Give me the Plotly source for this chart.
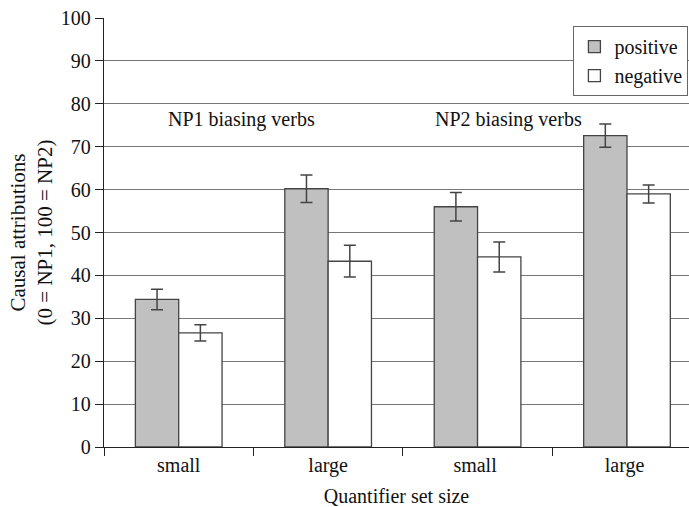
import plotly.graph_objects as go

categories = ["small", "large", "small ", "large "]
positive = [34.4, 60.2, 56.0, 72.6]
positive_err = [2.4, 3.2, 3.3, 2.7]
negative = [26.6, 43.3, 44.3, 59.0]
negative_err = [1.9, 3.7, 3.5, 2.1]
y_ticks = [0, 10, 20, 30, 40, 50, 60, 70, 80, 90, 100]

font_family = "Liberation Serif, Times New Roman, serif"

fig = go.Figure()
fig.add_trace(go.Bar(
    name="positive", x=categories, y=positive,
    marker=dict(color="#c0c0c0", line=dict(color="#444444", width=1.3)),
    error_y=dict(type="data", array=positive_err, color="#444444", thickness=1.5, width=6),
))
fig.add_trace(go.Bar(
    name="negative", x=categories, y=negative,
    marker=dict(color="#ffffff", line=dict(color="#444444", width=1.3)),
    error_y=dict(type="data", array=negative_err, color="#444444", thickness=1.5, width=6),
))

fig.add_annotation(text="NP1 biasing verbs", x=0.42, y=76.3, xref="x", yref="y",
                   showarrow=False, font=dict(size=20, color="#111111", family=font_family))
fig.add_annotation(text="NP2 biasing verbs", x=2.21, y=76.3, xref="x", yref="y",
                   showarrow=False, font=dict(size=20, color="#111111", family=font_family))

fig.update_layout(
    width=689, height=507,
    margin=dict(l=104, r=0, t=18, b=60, autoexpand=False),
    plot_bgcolor="white", paper_bgcolor="white",
    barmode="group", bargap=0.42, bargroupgap=0,
    font=dict(family=font_family, size=20, color="#111111"),
    showlegend=True,
    legend=dict(x=0.999, xanchor="right", y=0.981, yanchor="top",
                bordercolor="#666666", borderwidth=1, bgcolor="white",
                font=dict(size=20), tracegroupgap=0,
                itemwidth=30),
)
fig.update_xaxes(
    type="category", range=[-0.5, 3.415],
    tickson="boundaries", ticks="outside", ticklen=8, tickcolor="#222222", tickwidth=1.3,
    showline=True, linecolor="#222222", linewidth=1.3,
    showgrid=False,
    title=dict(text="Quantifier set size", standoff=12, font=dict(size=20)),
    tickfont=dict(size=20),
)
fig.update_yaxes(
    range=[0, 100], tickvals=y_ticks,
    ticks="outside", ticklen=8, tickcolor="#222222", tickwidth=1.3,
    showline=True, linecolor="#222222", linewidth=1.3,
    showgrid=True, gridcolor="#777777", gridwidth=1.3,
    zeroline=False,
    title=dict(text="Causal attributions<br>(0 = NP1, 100 = NP2)", standoff=2, font=dict(size=21)),
    tickfont=dict(size=20),
)

fig.write_html("out.html", config={"displayModeBar": False},
               post_script="document.body.style.margin='0px';")
